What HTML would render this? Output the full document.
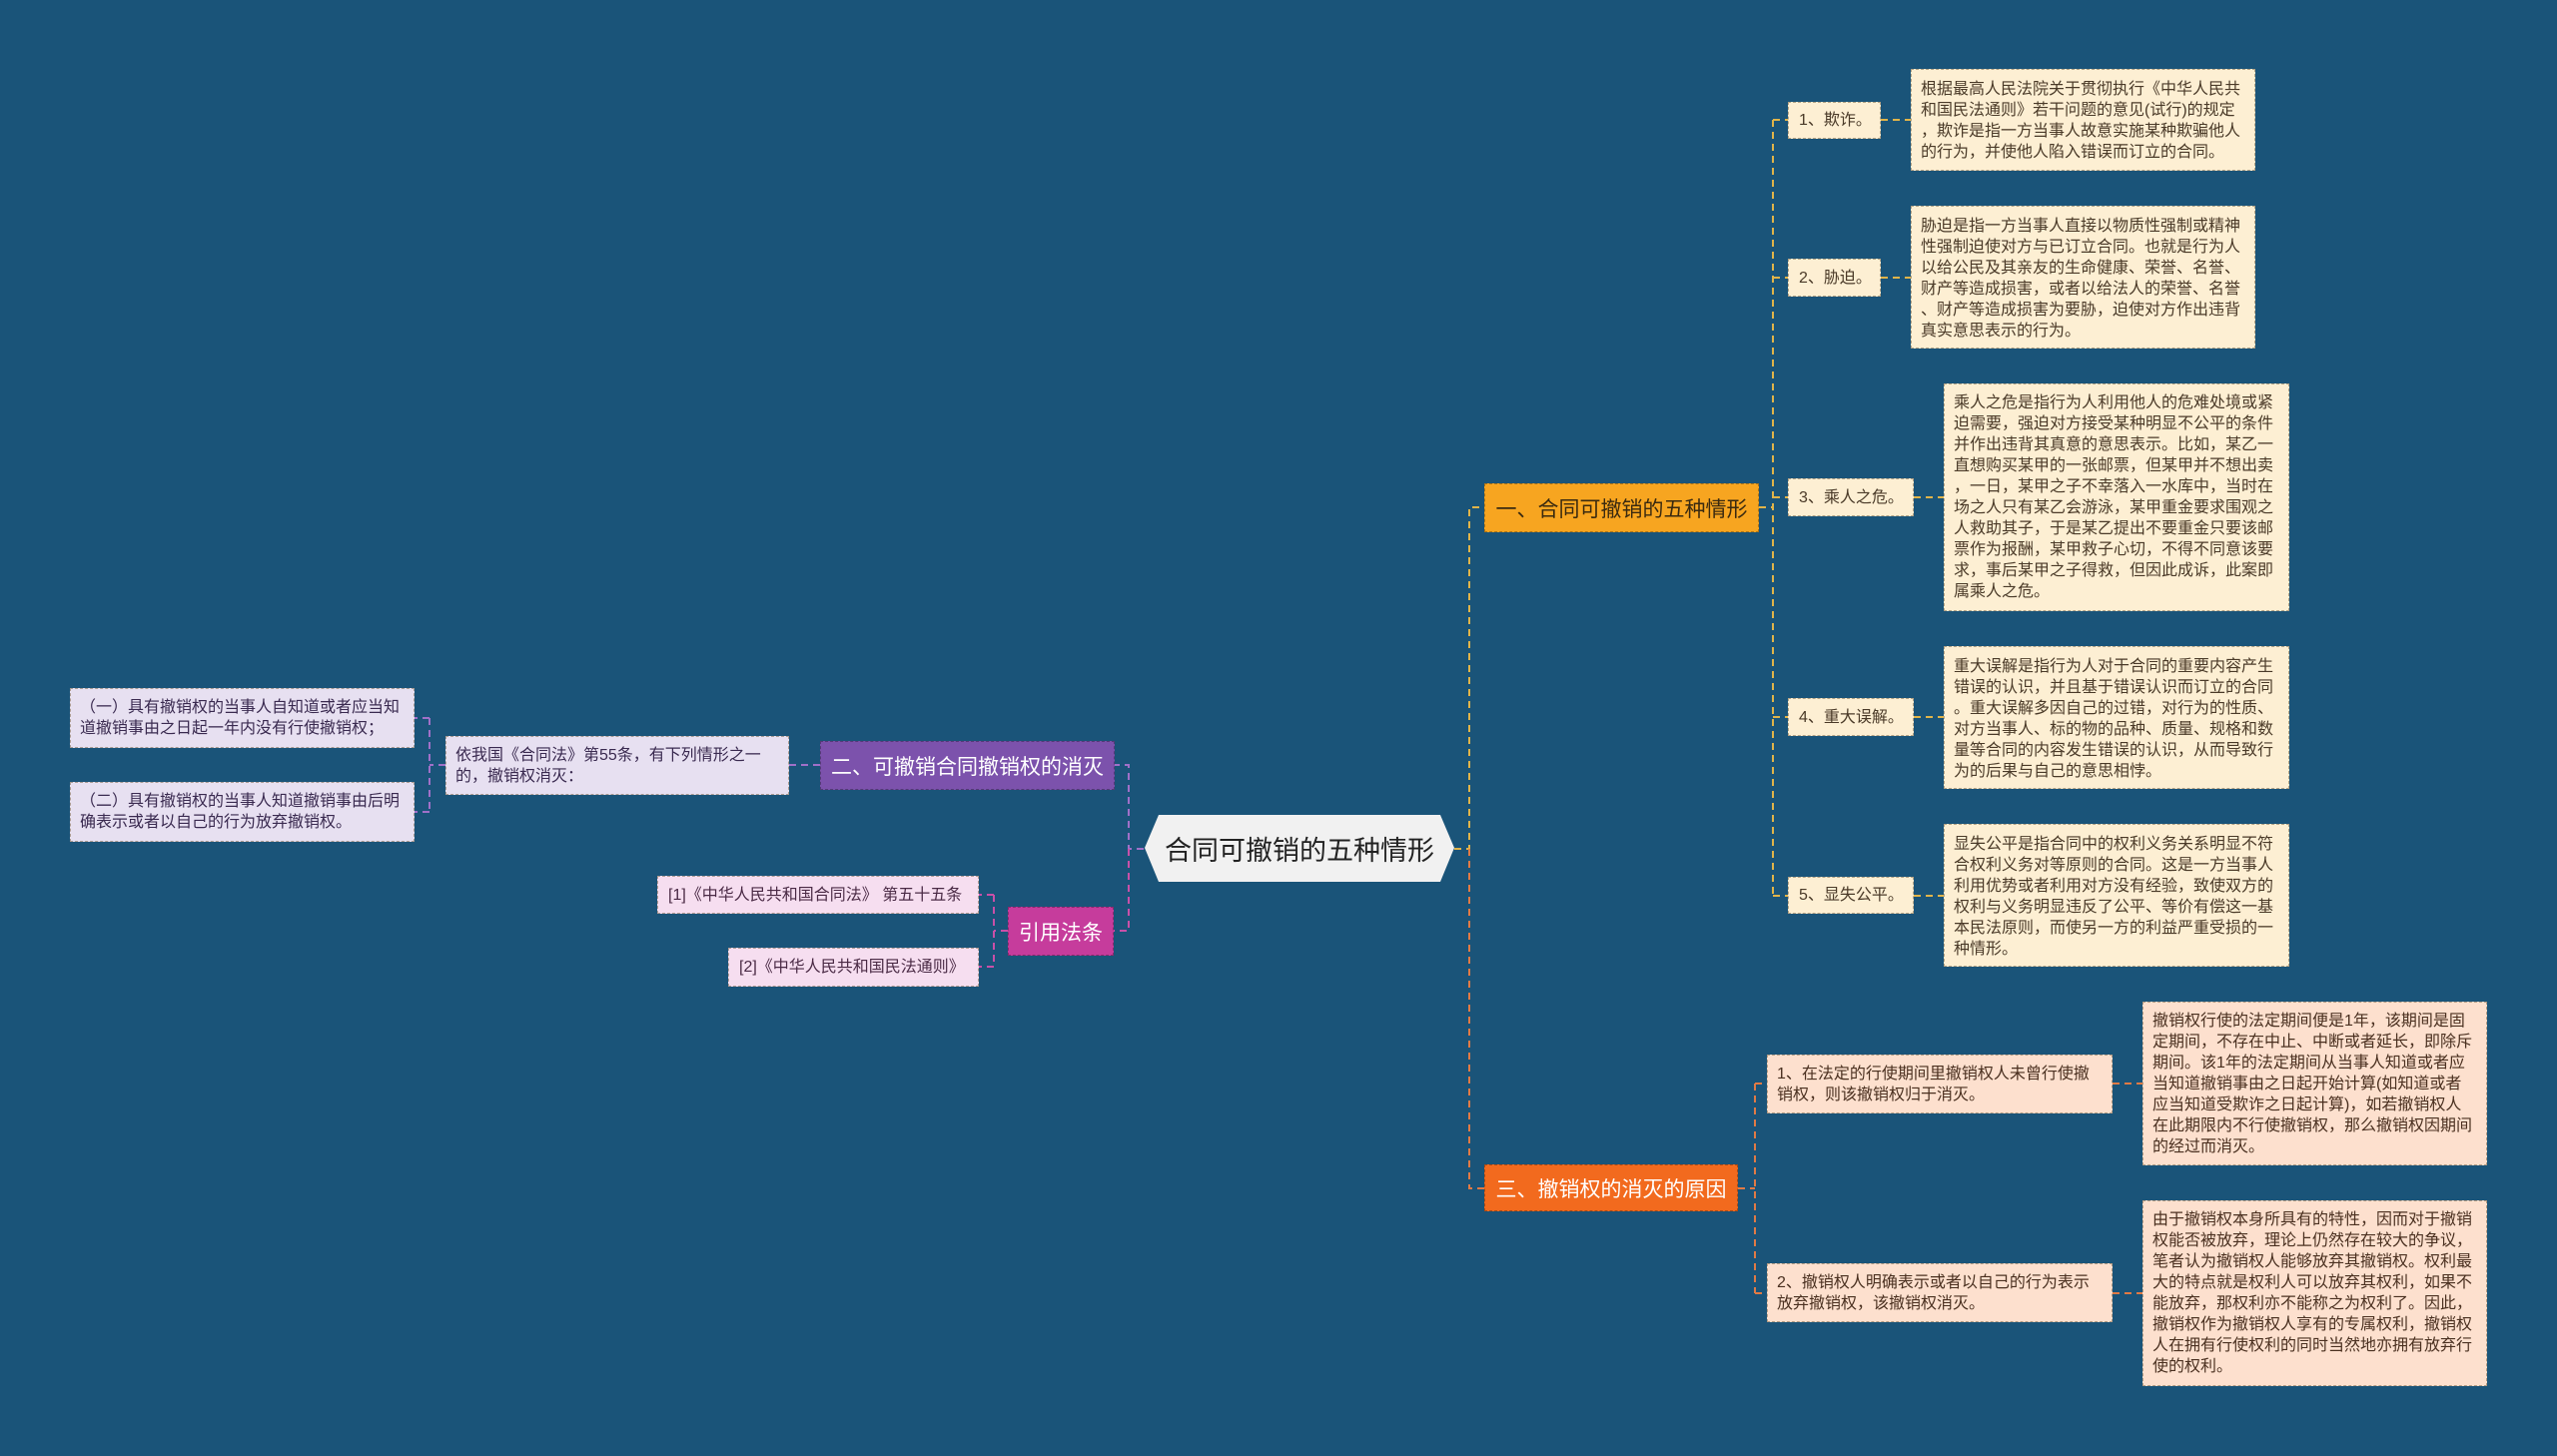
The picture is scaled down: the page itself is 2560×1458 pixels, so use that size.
<!DOCTYPE html>
<html><head><meta charset="utf-8"><style>
*{margin:0;padding:0;box-sizing:border-box}
body{width:2560px;height:1458px;background:#1a5479;position:relative;overflow:hidden;font-family:"Liberation Sans","Noto Sans CJK SC",sans-serif}
.b{position:absolute;font-size:16px;line-height:21px;color:#4a3a28;border:1.5px dashed rgba(120,100,70,.55);white-space:nowrap}
.y{background:#fdefd3}
.p{background:#fde0ce;color:#4a3020}
.v{background:#e7e0f1;color:#3a2a50}
.k{background:#f6def0;color:#4a2a45}
.lab{display:flex;align-items:center;padding-left:10px}
.txt{padding:7px 0 0 9px}
svg{position:absolute;left:0;top:0}
.n{position:absolute;display:flex;align-items:center;justify-content:center;font-size:21px;border:1.5px dashed rgba(0,0,0,.3)}
</style></head><body>
<svg width="2560" height="1458" fill="none" stroke-width="2" stroke-dasharray="7,5">
<g stroke="#e0b44a">
<path d="M1456 850H1471V508H1486"/>
<path d="M1761 508H1775M1775 120V897M1775 120H1790M1775 278H1790M1775 498H1790M1775 718H1790M1775 897H1790"/>
<path d="M1883 120H1913M1883 278H1913M1916 498H1946M1916 718H1946M1916 897H1946"/>
</g>
<g stroke="#e07a45">
<path d="M1471 850V1190H1486"/>
<path d="M1740 1190H1757M1757 1085V1295M1757 1085H1769M1757 1295H1769M2115 1085H2145M2115 1295H2145"/>
</g>
<g stroke="#a070c8">
<path d="M1145 850H1130V766H1116M821 766H790M446 766H430M430 719V813M430 719H415M430 813H415"/>
</g>
<g stroke="#c850a8">
<path d="M1130 850V932H1115M1009 932H995M995 896V968M995 896H980M995 968H980"/>
</g>
</svg>

<svg width="2560" height="1458"><polygon points="1160,816 1442,816 1456,849 1442,883 1160,883 1146,849" fill="#f1f1f1"/></svg>
<div class="n" style="left:1146px;top:816px;width:310px;height:67px;border:none;font-size:27px;color:#222">合同可撤销的五种情形</div>

<div class="n" style="left:1486px;top:484px;width:275px;height:49px;background:#f7a520;color:#3a2a10">一、合同可撤销的五种情形</div>
<div class="n" style="left:1486px;top:1166px;width:254px;height:47px;background:#f26a1e;color:#fff">三、撤销权的消灭的原因</div>
<div class="n" style="left:821px;top:742px;width:295px;height:49px;background:#7c52ac;color:#fff">二、可撤销合同撤销权的消灭</div>
<div class="n" style="left:1009px;top:908px;width:106px;height:49px;background:#c63c9c;color:#fff">引用法条</div>

<div class="b y lab" style="left:1790px;top:102px;width:93px;height:37px">1、欺诈。</div>
<div class="b y lab" style="left:1790px;top:259px;width:93px;height:38px">2、胁迫。</div>
<div class="b y lab" style="left:1790px;top:479px;width:126px;height:38px">3、乘人之危。</div>
<div class="b y lab" style="left:1790px;top:699px;width:126px;height:38px">4、重大误解。</div>
<div class="b y lab" style="left:1790px;top:878px;width:126px;height:37px">5、显失公平。</div>

<div class="b y txt" style="left:1913px;top:69px;width:345px;height:102px;padding-top:9px">根据最高人民法院关于贯彻执行《中华人民共<br>和国民法通则》若干问题的意见(试行)的规定<br>，欺诈是指一方当事人故意实施某种欺骗他人<br>的行为，并使他人陷入错误而订立的合同。</div>
<div class="b y txt" style="left:1913px;top:206px;width:345px;height:143px;padding-top:9px">胁迫是指一方当事人直接以物质性强制或精神<br>性强制迫使对方与已订立合同。也就是行为人<br>以给公民及其亲友的生命健康、荣誉、名誉、<br>财产等造成损害，或者以给法人的荣誉、名誉<br>、财产等造成损害为要胁，迫使对方作出违背<br>真实意思表示的行为。</div>
<div class="b y txt" style="left:1946px;top:384px;width:346px;height:228px;padding-top:8px">乘人之危是指行为人利用他人的危难处境或紧<br>迫需要，强迫对方接受某种明显不公平的条件<br>并作出违背其真意的意思表示。比如，某乙一<br>直想购买某甲的一张邮票，但某甲并不想出卖<br>，一日，某甲之子不幸落入一水库中，当时在<br>场之人只有某乙会游泳，某甲重金要求围观之<br>人救助其子，于是某乙提出不要重金只要该邮<br>票作为报酬，某甲救子心切，不得不同意该要<br>求，事后某甲之子得救，但因此成诉，此案即<br>属乘人之危。</div>
<div class="b y txt" style="left:1946px;top:647px;width:346px;height:143px;padding-top:9px">重大误解是指行为人对于合同的重要内容产生<br>错误的认识，并且基于错误认识而订立的合同<br>。重大误解多因自己的过错，对行为的性质、<br>对方当事人、标的物的品种、质量、规格和数<br>量等合同的内容发生错误的认识，从而导致行<br>为的后果与自己的意思相悖。</div>
<div class="b y txt" style="left:1946px;top:825px;width:346px;height:143px;padding-top:9px">显失公平是指合同中的权利义务关系明显不符<br>合权利义务对等原则的合同。这是一方当事人<br>利用优势或者利用对方没有经验，致使双方的<br>权利与义务明显违反了公平、等价有偿这一基<br>本民法原则，而使另一方的利益严重受损的一<br>种情形。</div>

<div class="b p txt" style="left:1769px;top:1056px;width:346px;height:59px;padding-top:8px">1、在法定的行使期间里撤销权人未曾行使撤<br>销权，则该撤销权归于消灭。</div>
<div class="b p txt" style="left:1769px;top:1265px;width:346px;height:59px;padding-top:8px">2、撤销权人明确表示或者以自己的行为表示<br>放弃撤销权，该撤销权消灭。</div>
<div class="b p txt" style="left:2145px;top:1003px;width:345px;height:164px;padding-top:8px">撤销权行使的法定期间便是1年，该期间是固<br>定期间，不存在中止、中断或者延长，即除斥<br>期间。该1年的法定期间从当事人知道或者应<br>当知道撤销事由之日起开始计算(如知道或者<br>应当知道受欺诈之日起计算)，如若撤销权人<br>在此期限内不行使撤销权，那么撤销权因期间<br>的经过而消灭。</div>
<div class="b p txt" style="left:2145px;top:1202px;width:345px;height:186px;padding-top:8px">由于撤销权本身所具有的特性，因而对于撤销<br>权能否被放弃，理论上仍然存在较大的争议，<br>笔者认为撤销权人能够放弃其撤销权。权利最<br>大的特点就是权利人可以放弃其权利，如果不<br>能放弃，那权利亦不能称之为权利了。因此，<br>撤销权作为撤销权人享有的专属权利，撤销权<br>人在拥有行使权利的同时当然地亦拥有放弃行<br>使的权利。</div>

<div class="b v txt" style="left:446px;top:737px;width:344px;height:59px;padding-top:8px">依我国《合同法》第55条，有下列情形之一<br>的，撤销权消灭：</div>
<div class="b v txt" style="left:70px;top:689px;width:345px;height:60px;padding-top:8px">（一）具有撤销权的当事人自知道或者应当知<br>道撤销事由之日起一年内没有行使撤销权；</div>
<div class="b v txt" style="left:70px;top:783px;width:345px;height:60px;padding-top:8px">（二）具有撤销权的当事人知道撤销事由后明<br>确表示或者以自己的行为放弃撤销权。</div>
<div class="b k lab" style="left:658px;top:877px;width:322px;height:38px">[1]《中华人民共和国合同法》 第五十五条</div>
<div class="b k lab" style="left:729px;top:949px;width:251px;height:39px">[2]《中华人民共和国民法通则》</div>
</body></html>
